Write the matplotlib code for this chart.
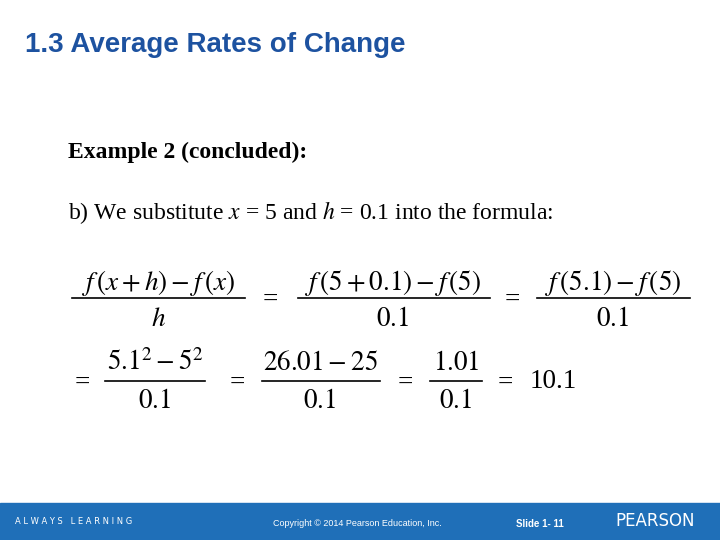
import matplotlib
matplotlib.use("Agg")
import matplotlib.pyplot as plt
from matplotlib.patches import Rectangle

plt.rcParams['mathtext.fontset'] = 'stix'
plt.rcParams['font.family'] = ['Liberation Serif', 'DejaVu Serif']

title = "1.3 Average Rates of Change"
heading = "Example 2 (concluded):"
body = r"b) We substitute $x$ = 5 and $h$ = 0.1 into the formula:"

# fractions: (numerator, denominator, center x, left x, right x)
row1_y = (283, 298, 320)
row1 = [
    (r"$f\,(x+h)-f\,(x)$", r"$h$", 158, 72, 245),
    (r"$f\,(5+0.1)-f\,(5)$", r"$0.1$", 393, 298, 490),
    (r"$f\,(5.1)-f\,(5)$", r"$0.1$", 613, 537, 690),
]
row1_eq = [270, 512]

row2_y = (363, 381, 402)
row2 = [
    (r"$5.1^2-5^2$", r"$0.1$", 155, 105, 205),
    (r"$26.01-25$", r"$0.1$", 320, 262, 380),
    (r"$1.01$", r"$0.1$", 456, 430, 482),
]
row2_eq = [82, 237, 405, 505]
result = "10.1"

fig = plt.figure(figsize=(7.2, 5.4), dpi=100)
ax = fig.add_axes([0, 0, 1, 1])
ax.set_xlim(0, 720)
ax.set_ylim(540, 0)
ax.axis('off')

# footer bar
ax.add_patch(Rectangle((0, 503), 720, 37, color='#1f6fb8'))
ax.text(15, 521, "A L W A Y S   L E A R N I N G", color='white', fontsize=6,
        family='DejaVu Sans', va='center')
ax.text(357, 524, "Copyright © 2014 Pearson Education, Inc.", color='white',
        fontsize=6.5, family='Liberation Sans', va='center', ha='center')
ax.text(540, 524, "Slide 1- 11", color='white', fontsize=7, weight='bold',
        family='Liberation Sans', va='center', ha='center')
ax.text(655, 521, "PEARSON", color='white', fontsize=12, family='DejaVu Sans',
        va='center', ha='center')

ax.text(25, 45, title, color='#1d52a0', fontsize=20, weight='bold',
        family='Liberation Sans', va='center')
ax.text(68, 152, heading, fontsize=17, weight='bold', va='center')
ax.text(68, 213, body, fontsize=17, va='center')

fs = 19.5
for rows, (yn, yl, yd), eqs in [(row1, row1_y, row1_eq), (row2, row2_y, row2_eq)]:
    for num, den, cx, x0, x1 in rows:
        ax.text(cx, yn, num, fontsize=fs, ha='center', va='center')
        ax.plot([x0, x1], [yl, yl], color='black', lw=1.2)
        ax.text(cx, yd, den, fontsize=fs, ha='center', va='center')
    for ex in eqs:
        ax.text(ex, yl + 2, "=", fontsize=fs, ha='center', va='center')
ax.text(530, row2_y[1], result, fontsize=fs, ha='left', va='center')

fig.savefig("out.png", dpi=100)
